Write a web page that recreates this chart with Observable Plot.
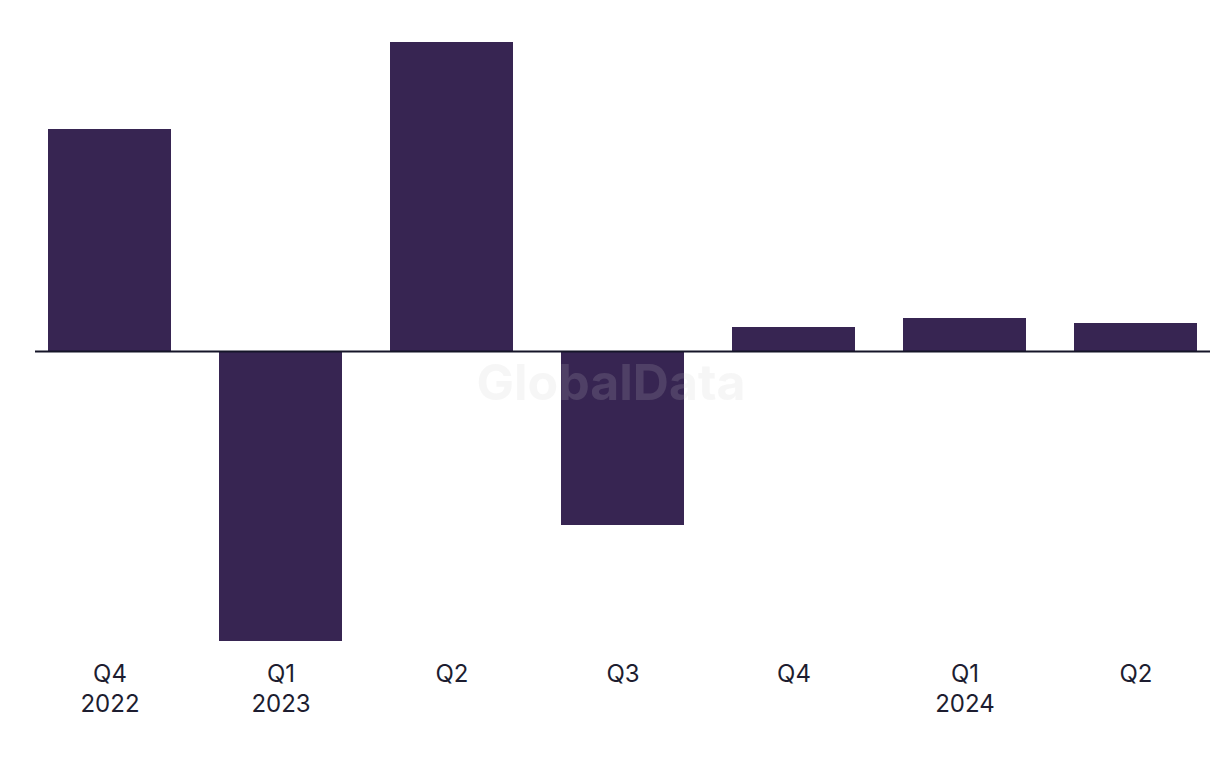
<!DOCTYPE html>
<html>
<head>
<meta charset="utf-8">
<script src="https://cdn.jsdelivr.net/npm/d3@7"></script>
<script src="https://cdn.jsdelivr.net/npm/@observablehq/plot@0.6"></script>
<style>
  html, body { margin: 0; padding: 0; background: #ffffff; }
  #chart { width: 1220px; height: 768px; }
</style>
</head>
<body>
<div id="chart"></div>
<script>
const quarters = ["Q4", "Q1", "Q2", "Q3", "Q4 ", "Q1 ", "Q2 "];
const tickLabels = ["Q4\n2022", "Q1\n2023", "Q2", "Q3", "Q4", "Q1\n2024", "Q2"];
const values = [22.2, -29.0, 30.9, -17.4, 2.4, 3.3, 2.8];

const data = quarters.map((q, i) => ({q, v: values[i], label: tickLabels[i]}));

const chart = Plot.plot({
  width: 1220,
  height: 768,
  marginLeft: 35,
  marginRight: 10,
  marginTop: 42,
  marginBottom: 127,
  style: {fontFamily: "Inter, 'Noto Sans', sans-serif", background: "#ffffff"},
  x: {domain: quarters, paddingInner: 0.281, paddingOuter: 0.076, axis: null},
  y: {domain: [d3.min(values), d3.max(values)], nice: false, axis: null},
  marks: [
    Plot.barY(data, {x: "q", y: "v", fill: "#372552"}),
    Plot.ruleY([0], {stroke: "#151528", strokeWidth: 2}),
    Plot.axisX({
      label: null,
      tickSize: 0,
      tickPadding: 19,
      fontSize: 24,
      lineHeight: 1.25,
      fill: "#1d1d30",
      tickFormat: (d) => tickLabels[quarters.indexOf(d)]
    }),
    Plot.text(["GlobalData"], {
      frameAnchor: "middle",
      dx: -12,
      dy: 42,
      text: d => d,
      fontSize: 50,
      fontWeight: "bold",
      fill: "#c8c8c8",
      fillOpacity: 0.17
    })
  ]
});
document.getElementById("chart").appendChild(chart);
</script>
</body>
</html>
